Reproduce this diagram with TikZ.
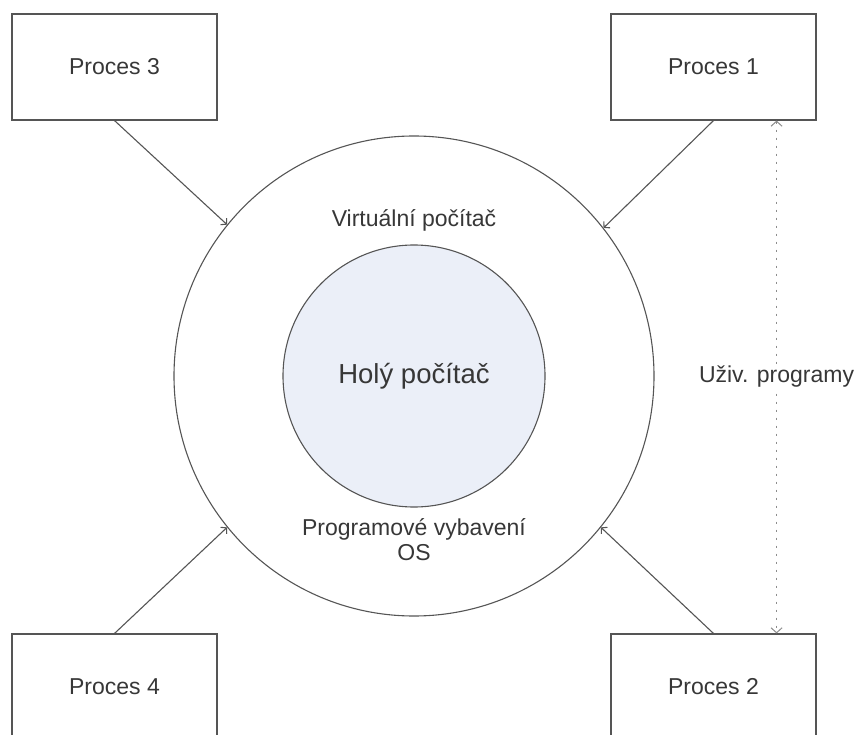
\documentclass[tikz,border=0pt]{standalone}
\usepackage{fontspec}
\setmainfont{Liberation Sans}
\usetikzlibrary{arrows.meta}
\definecolor{holy}{RGB}{235,239,248}
\definecolor{linka}{RGB}{85,85,85}
\definecolor{pismo}{RGB}{55,55,55}
\definecolor{sedatecka}{RGB}{140,140,140}

\begin{document}
\begin{tikzpicture}[
			x=1pt, y=-1pt, color=linka, line width=1.1pt,
			>={Straight Barb[length=4pt, width=9pt]},
			proces/.style={draw, minimum width=205pt, minimum height=106pt, inner sep=0pt, text=pismo, font=\fontsize{23}{27}\selectfont},
			popis/.style={text=pismo, font=\fontsize{23}{25}\selectfont, align=center},
			teckovane/.style={sedatecka, line width=1.4pt, dash pattern=on 2pt off 6pt,
				{Straight Barb[length=5pt, width=11pt, line width=1pt]}-{Straight Barb[length=5pt, width=11pt, line width=1pt]}}
			]
			\clip (0,0) rectangle (856,735);
			\node[proces] (p3) at (114.5,67) {Proces 3};
			\node[proces] (p1) at (713.5,67) {Proces 1};
			\node[proces] (p4) at (114.5,687) {Proces 4};
			\node[proces] (p2) at (713.5,687) {Proces 2};
			\node[circle, draw, minimum size=480pt, inner sep=0pt] (vp) at (414,376) {};
			\node[circle, draw, fill=holy, minimum size=262pt, inner sep=0pt, text=pismo, font=\fontsize{27.5}{33}\selectfont] (hp) at (414,376) {Holý počítač};
			\node[popis] (virt) at (414,220) {Virtuální počítač};
			\node[popis] (prog) at (414,540) {Programové vybavení\\OS};
			\draw[->] (p3.south) -- (vp.141.5);
			\draw[->] (p1.south) -- (vp.38.5);
			\draw[->] (p4.north) -- (vp.219);
			\draw[->] (p2.north) -- (vp.321);
			\draw[teckovane] ([xshift=-40pt]p1.south east) -- node[popis, fill=white, inner sep=2pt] (uziv) {Uživ. programy} ([xshift=-40pt]p2.north east);
		\end{tikzpicture}
\end{document}
